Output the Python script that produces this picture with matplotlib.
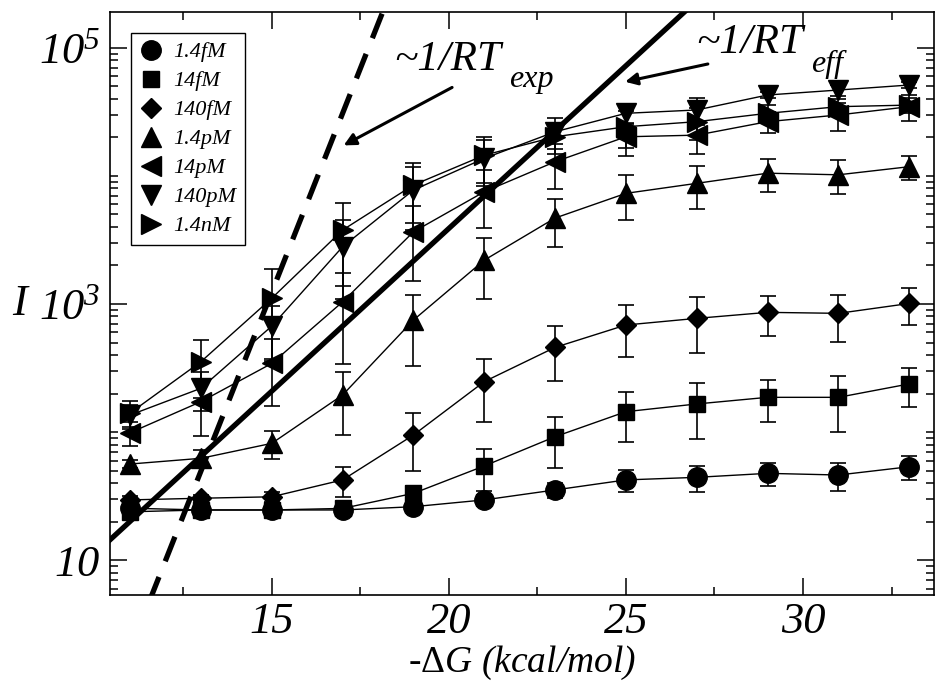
import numpy as np
import matplotlib
matplotlib.use("Agg")
import matplotlib.pyplot as plt
from matplotlib.lines import Line2D
from matplotlib.ticker import FixedLocator, FixedFormatter, NullFormatter

plt.rcParams['font.family'] = ['Liberation Serif', 'DejaVu Serif']
plt.rcParams['mathtext.fontset'] = 'custom'
plt.rcParams['mathtext.rm'] = 'Liberation Serif:italic'
plt.rcParams['mathtext.it'] = 'Liberation Serif:italic'
plt.rcParams['mathtext.sf'] = 'Liberation Serif'

# -dG (kcal/mol)
dg = [11, 13, 15, 17, 19, 21, 23, 25, 27, 29, 31, 33]

# intensity I for each concentration, with error bars
i_1p4fM = [25.5, 24.7, 24.7, 24.7, 26.2, 29.6, 35.4, 42.4, 44.4, 47.7, 46.3, 53.7]
e_1p4fM = [2, 1.5, 1.5, 1.5, 2, 3, 5, 8.5, 10.5, 10, 11.5, 11]

i_14fM = [23.9, 24.7, 24.7, 25.4, 33.3, 54.5, 92.2, 144.5, 166, 187, 187, 238]
e_14fM = [1.5, 1.5, 1.5, 2, 5, 20, 40, 60, 77, 67, 87, 80]

i_140fM = [29.6, 30.5, 31.3, 42.4, 95, 248, 459, 686, 773, 861, 846, 1010]
e_140fM = [2, 2, 3, 11, 45, 127, 210, 300, 355, 300, 340, 330]

i_1p4pM = [56.4, 62.5, 81.8, 195, 750, 2200, 4690, 7310, 8750, 10500, 10200, 11800]
e_1p4pM = [4, 9.5, 20, 100, 420, 1100, 1900, 2800, 3200, 3000, 3000, 2500]

i_14pM = [99, 173, 344, 1040, 3660, 7520, 12900, 20200, 20800, 26500, 29900, 34700]
e_14pM = [21, 80, 185, 700, 2150, 3600, 5000, 5800, 6000, 5000, 7400, 8000]

i_140pM = [136, 220, 673, 2800, 7760, 13700, 22100, 30800, 32700, 42800, 46800, 51200]
e_140pM = [27, 75, 300, 1700, 4000, 5300, 6000, 5600, 7600, 2600, 4400, 3000]

i_1p4nM = [141, 355, 1110, 3780, 8490, 14500, 20200, 24200, 26500, 30800, 34700, 35700]
e_1p4nM = [35, 170, 750, 2400, 4200, 5700, 5500, 7800, 7500, 5000, 5000, 5000]

labels = ['1.4fM', '14fM', '140fM', '1.4pM', '14pM', '140pM', '1.4nM']

# guide lines: log10(I) = a + b * (-dG)
exp_a, exp_b = -7.377, 0.698   # ~1/RT_exp
eff_a, eff_b = -1.490, 0.254   # ~1/RT_eff

series = [
    (i_1p4fM, e_1p4fM, 'o', 14),
    (i_14fM, e_14fM, 's', 12),
    (i_140fM, e_140fM, 'D', 10),
    (i_1p4pM, e_1p4pM, '^', 14),
    (i_14pM, e_14pM, '<', 14),
    (i_140pM, e_140pM, 'v', 14),
    (i_1p4nM, e_1p4nM, '>', 14),
]

fig = plt.figure(figsize=(9.35, 6.81), dpi=100)
ax = fig.add_axes([0.1176, 0.1263, 0.881, 0.856])

handles = []
for (vals, errs, mk, ms), lab in zip(series, labels):
    ax.errorbar(dg, vals, yerr=errs, color='black', lw=1.0, marker=mk, ms=ms,
                mfc='black', mec='black', elinewidth=1.2, capsize=6, capthick=1.2,
                zorder=3)
    handles.append(Line2D([], [], ls='none', marker=mk, ms=ms, color='black', label=lab))

xx = np.linspace(10, 35, 200)
ax.plot(xx, 10 ** (exp_a + exp_b * xx), color='black', lw=3.8, dashes=(5.0, 3.2), zorder=4)
ax.plot(xx, 10 ** (eff_a + eff_b * xx), color='black', lw=3.8, zorder=4)

ax.set_yscale('log')
ax.set_xlim(10.43, 33.69)
ax.set_ylim(5.36, 1.9e5)

ax.xaxis.set_major_locator(FixedLocator([15, 20, 25, 30]))
ax.xaxis.set_minor_locator(FixedLocator([12.5, 17.5, 22.5, 27.5, 32.5]))
ax.set_xticklabels(['15', '20', '25', '30'], fontsize=32, fontstyle='italic')

ax.yaxis.set_major_locator(FixedLocator([10, 1e3, 1e5]))
ax.yaxis.set_major_formatter(FixedFormatter([r'$10$', r'$10^{3}$', r'$10^{5}$']))
minor = [s * 10.0 ** k for k in range(0, 6) for s in range(1, 10)
         if not (s == 1 and k in (1, 3, 5))]
ax.yaxis.set_minor_locator(FixedLocator(minor))
ax.yaxis.set_minor_formatter(NullFormatter())
for t in ax.get_yticklabels():
    t.set_fontsize(32)

ax.tick_params(which='both', direction='in', top=True, right=True, width=1.1)
ax.tick_params(which='major', length=12, pad=7)
ax.tick_params(axis='x', which='major', pad=5)
ax.tick_params(which='minor', length=6)
for sp in ax.spines.values():
    sp.set_linewidth(1.2)

ax.set_xlabel(r'-$\mathsf{\Delta}$G (kcal/mol)', fontsize=27, fontstyle='italic', labelpad=1)
ax.set_ylabel('I', fontsize=32, fontstyle='italic', rotation=0, va='center')
ax.yaxis.set_label_coords(-0.11, 0.5)

# slope labels: main text plus a large, low subscript
ax.text(0.3455, 0.9005, '~1/RT', transform=ax.transAxes, fontsize=31,
        fontstyle='italic', va='baseline', ha='left')
ax.text(0.4848, 0.8722, 'exp', transform=ax.transAxes, fontsize=23,
        fontstyle='italic', va='baseline', ha='left')
ax.text(0.7112, 0.9300, '~1/RT', transform=ax.transAxes, fontsize=31,
        fontstyle='italic', va='baseline', ha='left')
ax.text(0.8505, 0.8971, 'eff', transform=ax.transAxes, fontsize=23,
        fontstyle='italic', va='baseline', ha='left')
ax.annotate('', xy=(16.96, 16900), xytext=(20.16, 50200),
            arrowprops=dict(arrowstyle='-|>', color='black', lw=2.2, mutation_scale=18))
ax.annotate('', xy=(24.90, 53700), xytext=(27.39, 75500),
            arrowprops=dict(arrowstyle='-|>', color='black', lw=2.2, mutation_scale=18))

leg = ax.legend(handles=handles, loc='upper left', bbox_to_anchor=(0.025, 0.964),
                borderaxespad=0, fancybox=False, framealpha=1, edgecolor='black',
                prop={'family': 'Liberation Serif', 'style': 'italic', 'size': 16},
                handlelength=1.0, handletextpad=0.5, labelspacing=0.38,
                borderpad=0.4, markerscale=1.0)
leg.get_frame().set_linewidth(1.0)

fig.savefig('out.png', dpi=100)
